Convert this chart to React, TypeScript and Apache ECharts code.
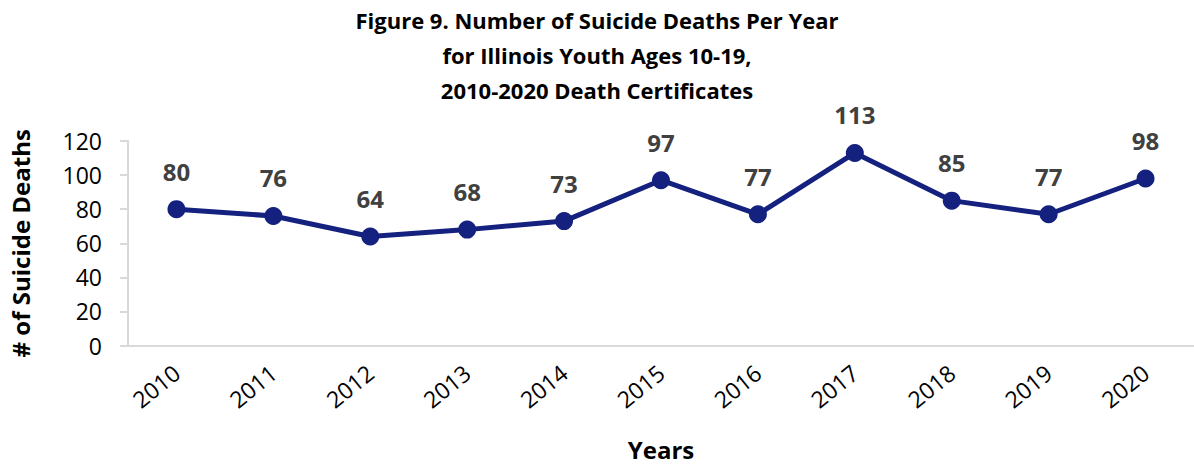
import React, { useEffect, useRef } from "react";
import * as echarts from "echarts";

const years = ["2010", "2011", "2012", "2013", "2014", "2015", "2016", "2017", "2018", "2019", "2020"];
const deaths = [80, 76, 64, 68, 73, 97, 77, 113, 85, 77, 98];
const titleLines = [
  "Figure 9. Number of Suicide Deaths Per Year",
  "for Illinois Youth Ages 10-19,",
  "2010-2020 Death Certificates",
];
const yAxisName = "# of Suicide Deaths";
const xAxisName = "Years";

const FONT = "'Open Sans', 'Noto Sans', sans-serif";

export default function App() {
  const ref = useRef<HTMLDivElement>(null);
  useEffect(() => {
    document.body.style.margin = "0";
    const chart = echarts.init(ref.current!, null, { renderer: "svg" });
    chart.setOption({
      animation: false,
      title: {
        text: titleLines.join("\n"),
        left: "center",
        top: -3,
        textStyle: {
          fontFamily: FONT,
          fontSize: 22,
          fontWeight: "bold",
          color: "#000",
          lineHeight: 35,
        },
      },
      grid: { left: 126, top: 141, width: 1072.5, height: 204.5 },
      xAxis: {
        type: "category",
        data: years,
        boundaryGap: true,
        name: xAxisName,
        nameLocation: "middle",
        nameGap: 92,
        nameTextStyle: { fontFamily: FONT, fontSize: 24, fontWeight: "bold", color: "#000" },
        axisLine: { lineStyle: { color: "#d9d9d9", width: 2 } },
        axisTick: { alignWithLabel: true, length: 7, lineStyle: { color: "#d9d9d9", width: 2 } },
        axisLabel: {
          rotate: 39,
          margin: 24,
          fontFamily: FONT,
          fontSize: 23,
          color: "#000",
        },
      },
      yAxis: {
        type: "value",
        min: 0,
        max: 120,
        interval: 20,
        name: yAxisName,
        nameLocation: "middle",
        nameGap: 96,
        nameTextStyle: { fontFamily: FONT, fontSize: 24, fontWeight: "bold", color: "#000" },
        axisLine: { show: true, lineStyle: { color: "#d9d9d9", width: 2 } },
        axisTick: { show: true, length: 8, lineStyle: { color: "#d9d9d9", width: 2 } },
        splitLine: { show: false },
        axisLabel: { margin: 26, fontFamily: FONT, fontSize: 23, color: "#000" },
      },
      series: [
        {
          type: "line",
          data: deaths,
          symbol: "circle",
          symbolSize: 18,
          lineStyle: { color: "#14217f", width: 5 },
          itemStyle: { color: "#14217f" },
          label: {
            show: true,
            position: "top",
            distance: 17,
            fontFamily: FONT,
            fontSize: 24,
            fontWeight: "bold",
            color: "#404040",
          },
        },
      ],
    });
    return () => chart.dispose();
  }, []);
  return <div ref={ref} style={{ width: 1194, height: 465 }} />;
}
